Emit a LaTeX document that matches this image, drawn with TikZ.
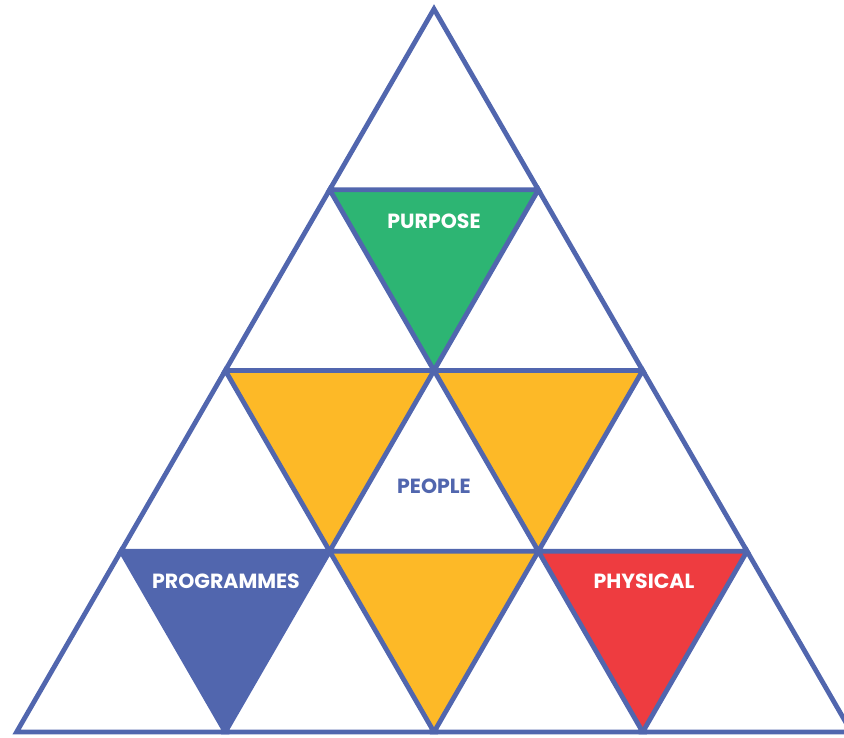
\documentclass[tikz,border=0pt]{standalone}
\usepackage{fontspec}
\setmainfont{Poppins}
\definecolor{tblue}{HTML}{5166AE}
\definecolor{tgreen}{HTML}{2DB573}
\definecolor{tyellow}{HTML}{FDB927}
\definecolor{tred}{HTML}{EE3C40}
\begin{document}
\begin{tikzpicture}[x=1pt,y=-1pt,
  edge/.style={draw=tblue,line width=4.8pt,line join=miter},
  lbl/.style={font=\fontsize{20.5}{20.5}\selectfont\bfseries,inner sep=0pt}]
\useasboundingbox (0,0) rectangle (844,738);
\clip (0,0) rectangle (844,738);
\def\hw{104.35}
\def\rh{180.75}
% points
\foreach \r in {0,...,4}{
  \foreach \k in {0,...,\r}{
    \coordinate (P\r\k) at ({434+(2*\k-\r)*\hw},{9+\r*\rh});
  }
}
% coloured inverted triangles
\fill[tgreen] (P10) -- (P11) -- (P21) -- cycle;
\fill[tyellow] (P20) -- (P21) -- (P31) -- cycle;
\fill[tyellow] (P21) -- (P22) -- (P32) -- cycle;
\fill[tblue] (P30) -- (P31) -- (P41) -- cycle;
\fill[tyellow] (P31) -- (P32) -- (P42) -- cycle;
\fill[tred] (P32) -- (P33) -- (P43) -- cycle;
% edges
\foreach \r/\n in {0/1,1/2,2/3,3/4}{
  \foreach \k in {0,...,\r}{
    \pgfmathtruncatemacro{\kk}{\k+1}
    \draw[edge] (P\r\k) -- (P\n\k) -- (P\n\kk) -- cycle;
  }
}
\node[lbl,text=white] (purpose) at (434,221) {PURPOSE};
\node[lbl,text=tblue] (people) at (434,486) {PEOPLE};
\node[lbl,text=white] (programmes) at (226,581) {PROGRAMMES};
\node[lbl,text=white] (physical) at (644,581) {PHYSICAL};
\end{tikzpicture}
\end{document}
